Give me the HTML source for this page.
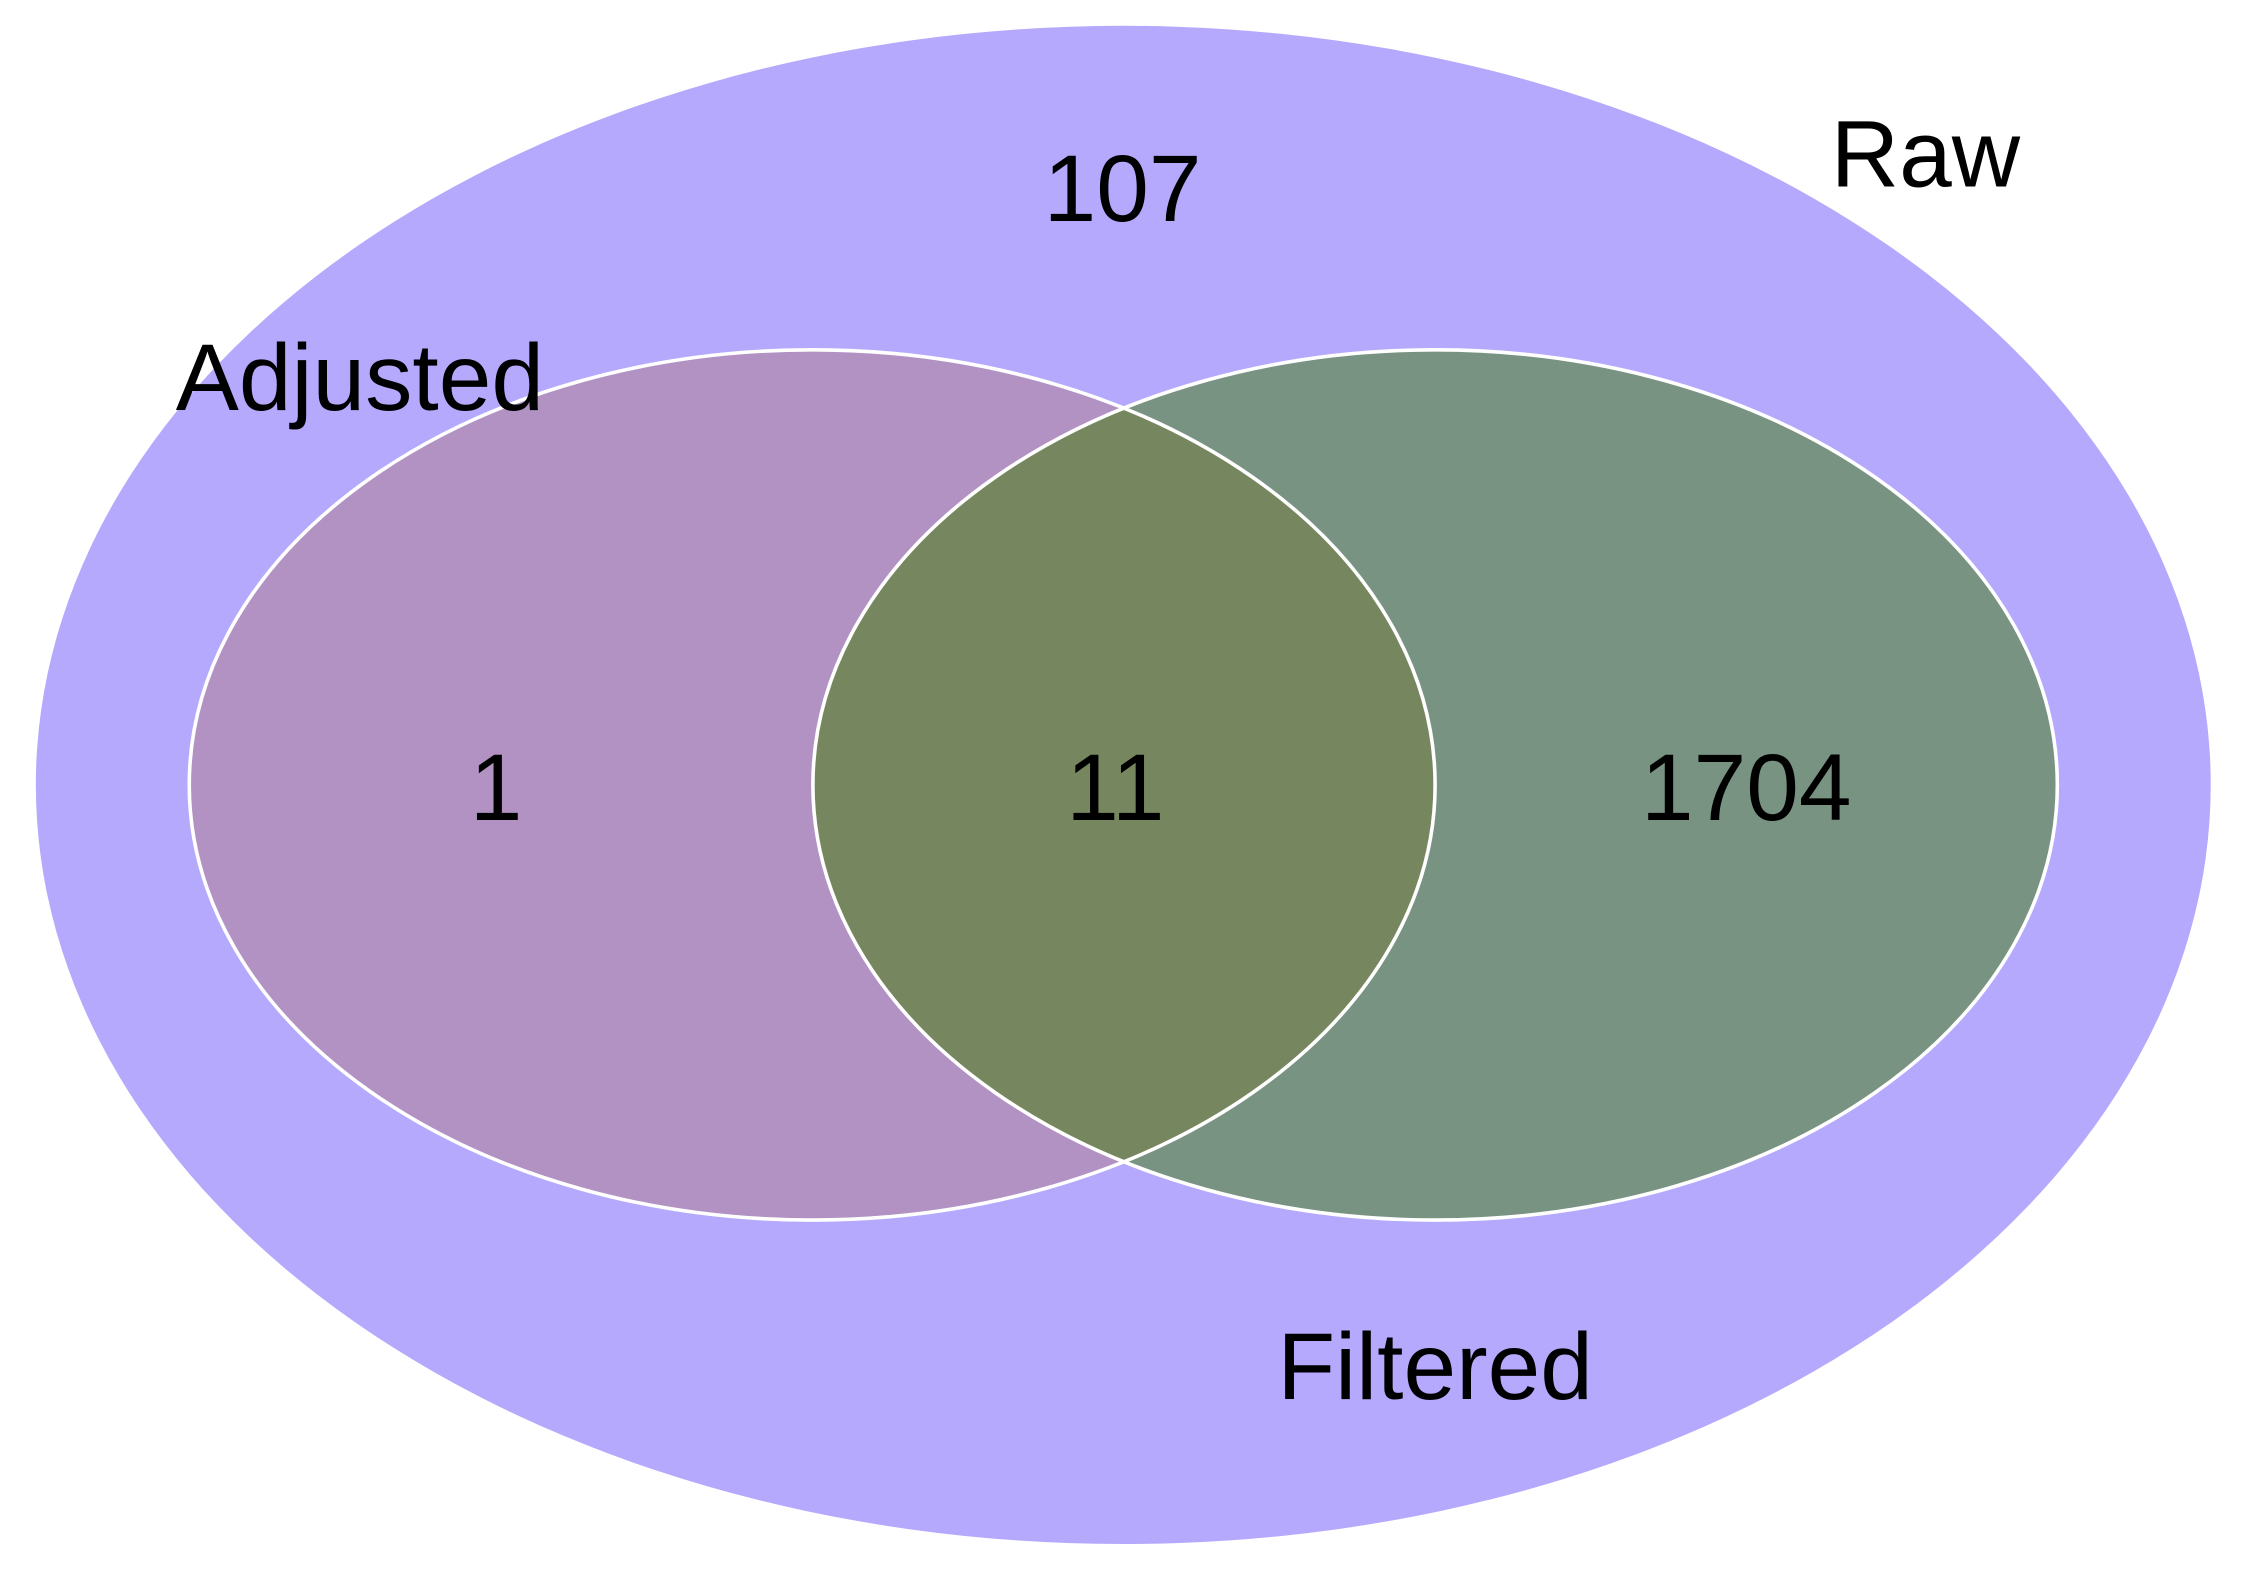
<!DOCTYPE html>
<html><head><meta charset="utf-8"><style>html,body{margin:0;padding:0;background:#fff}svg{display:block}</style></head>
<body>
<svg width="2248" height="1572" viewBox="0 0 1568 1096.5" preserveAspectRatio="none" xmlns="http://www.w3.org/2000/svg">
<defs><clipPath id="cl"><ellipse cx="566.5" cy="547.5" rx="434.5" ry="303.5"/></clipPath></defs>
<rect width="1568" height="1097" fill="#fff"/>
<ellipse cx="783.5" cy="547.5" rx="758.5" ry="529.5" fill="#b5a9fd"/>
<ellipse cx="566.5" cy="547.5" rx="434.5" ry="303.5" fill="#b192c3"/>
<ellipse cx="1001" cy="547.5" rx="434" ry="303.5" fill="#789382"/>
<ellipse cx="1001" cy="547.5" rx="434" ry="303.5" fill="#76875f" clip-path="url(#cl)"/>
<ellipse cx="566.5" cy="547.5" rx="434.5" ry="303.5" fill="none" stroke="#fff" stroke-width="2.5"/>
<ellipse cx="1001" cy="547.5" rx="434" ry="303.5" fill="none" stroke="#fff" stroke-width="2.5"/>
<g font-family="Liberation Sans, Arial, sans-serif" font-size="66" fill="#000" text-anchor="middle">
<text x="783" y="154">107</text>
<text x="1343" y="130">Raw</text>
<text x="251" y="286">Adjusted</text>
<text x="346" y="572">1</text>
<text x="778" y="572">11</text>
<text x="1218" y="572">1704</text>
<text x="1001" y="976">Filtered</text>
</g>
</svg>
</body></html>
